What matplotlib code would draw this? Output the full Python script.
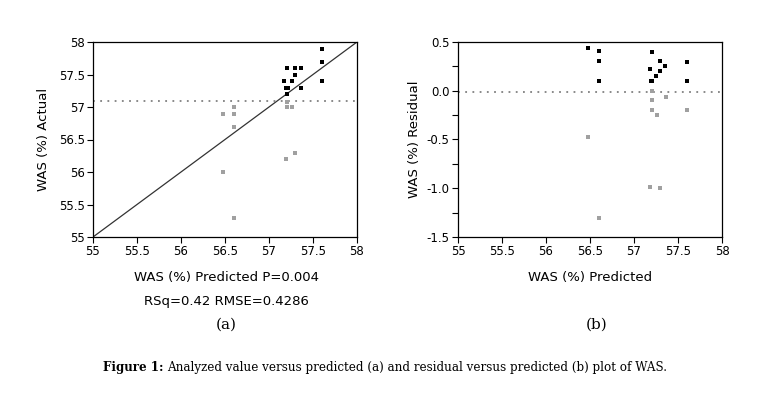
import matplotlib
matplotlib.use("Agg")
import matplotlib.pyplot as plt
from matplotlib.ticker import MultipleLocator, FormatStrFormatter

# (a) actual vs predicted
pred_hi = [57.60, 57.60, 57.60, 57.21, 57.30, 57.36, 57.30, 57.17, 57.26, 57.19, 57.22, 57.36, 57.21]
act_hi = [57.90, 57.70, 57.40, 57.60, 57.60, 57.60, 57.50, 57.40, 57.40, 57.30, 57.30, 57.30, 57.20]
pred_lo = [57.21, 57.21, 57.26, 56.48, 56.60, 56.60, 56.60, 56.48, 56.60, 57.19, 57.30]
act_lo = [57.08, 57.00, 57.00, 56.90, 57.00, 56.90, 56.70, 56.00, 55.30, 56.20, 56.30]
mean_actual = 57.09

# (b) residual vs predicted
rpred_hi = [56.48, 56.60, 56.60, 56.60, 57.21, 57.18, 57.30, 57.30, 57.35, 57.25, 57.19, 57.21, 57.60, 57.60]
resid_hi = [0.435, 0.405, 0.30, 0.10, 0.395, 0.225, 0.31, 0.205, 0.25, 0.155, 0.10, 0.10, 0.295, 0.10]
rpred_lo = [57.21, 57.21, 57.21, 57.26, 57.36, 57.60, 56.48, 57.18, 57.30, 56.60]
resid_lo = [0.00, -0.10, -0.20, -0.25, -0.06, -0.20, -0.475, -0.99, -1.00, -1.30]
resid_ref = -0.01

xticks = [55, 55.5, 56, 56.5, 57, 57.5, 58]
xtick_labels = ["55", "55.5", "56", "56.5", "57", "57.5", "58"]

W, H = 761, 395
fig = plt.figure(figsize=(W / 100, H / 100), dpi=100)
plt.rcParams["font.family"] = "DejaVu Sans"

def box(x0, y0, x1, y1):
    return [x0 / W, 1 - y1 / H, (x1 - x0) / W, (y1 - y0) / H]

def style(ax):
    ax.set_xlim(55, 58)
    ax.set_xticks(xticks)
    ax.set_xticklabels(xtick_labels)
    ax.tick_params(direction="out", length=4, width=0.8, labelsize=8.5, pad=2)
    ax.tick_params(which="minor", direction="out", length=4, width=0.8)
    for s in ax.spines.values():
        s.set_linewidth(0.9)

ax1 = fig.add_axes(box(93, 42, 357, 237))
style(ax1)
ax1.set_ylim(55, 58)
ax1.set_yticks(xticks)
ax1.set_yticklabels(xtick_labels)
ax1.plot([55, 58], [55, 58], color="#333333", lw=0.9)
ax1.axhline(mean_actual, color="#808080", lw=1.3, ls=(0, (1, 3)))
ax1.scatter(pred_lo, act_lo, s=5, marker="s", color="#a0a0a0", lw=0, zorder=3)
ax1.scatter(pred_hi, act_hi, s=5, marker="s", color="black", lw=0, zorder=3)
ax1.set_ylabel("WAS (%) Actual", fontsize=9.5, labelpad=6)

ax2 = fig.add_axes(box(458, 42, 722, 237))
style(ax2)
ax2.set_ylim(-1.5, 0.5)
ax2.yaxis.set_major_locator(MultipleLocator(0.5))
ax2.yaxis.set_minor_locator(MultipleLocator(0.25))
ax2.yaxis.set_major_formatter(FormatStrFormatter("%.1f"))
ax2.axhline(resid_ref, color="#808080", lw=1.3, ls=(0, (1, 3)))
ax2.scatter(rpred_lo, resid_lo, s=5, marker="s", color="#a0a0a0", lw=0, zorder=3)
ax2.scatter(rpred_hi, resid_hi, s=5, marker="s", color="black", lw=0, zorder=3)
ax2.set_ylabel("WAS (%) Residual", fontsize=9.5, labelpad=4)

def ftext(x, y, s, **kw):
    return fig.text(x / W, 1 - y / H, s, ha="center", va="center", **kw)

ftext(226, 278, "WAS (%) Predicted P=0.004", fontsize=9.5)
ftext(226, 302, "RSq=0.42 RMSE=0.4286", fontsize=9.5)
ftext(590, 278, "WAS (%) Predicted", fontsize=9.5)
ftext(226, 325, "(a)", fontsize=11, family="DejaVu Serif")
ftext(597, 325, "(b)", fontsize=11, family="DejaVu Serif")

# caption: bold lead-in, then the rest placed right after it
lead = fig.text(103 / W, 1 - 368 / H, "Figure 1:", ha="left", va="center",
                fontsize=8.6, family="DejaVu Serif", fontweight="bold")
r = fig.canvas.get_renderer()
x_end = lead.get_window_extent(r).x1
fig.text((x_end + 4) / W, 1 - 368 / H,
         "Analyzed value versus predicted (a) and residual versus predicted (b) plot of WAS.",
         ha="left", va="center", fontsize=8.6, family="DejaVu Serif")

fig.savefig("out.png", dpi=100)
